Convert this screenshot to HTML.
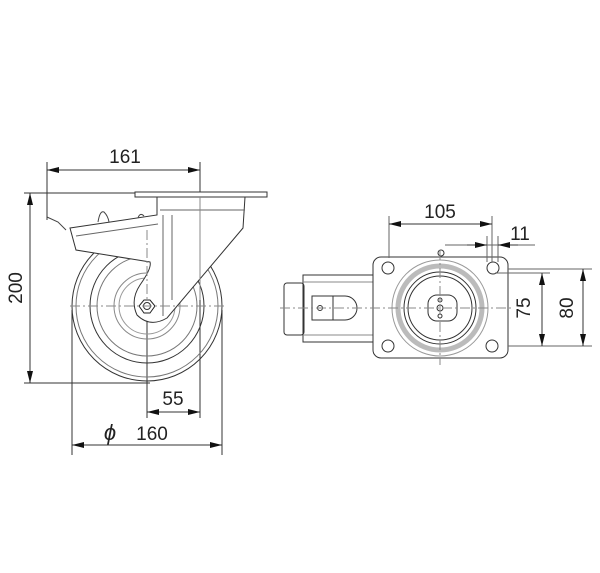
<!DOCTYPE html>
<html><head><meta charset="utf-8"><style>
html,body{margin:0;padding:0;background:#fff;}
svg{display:block;}
text{font-family:"Liberation Sans",sans-serif;fill:#222;}
</style></head><body>
<svg width="600" height="573" viewBox="0 0 600 573" xmlns="http://www.w3.org/2000/svg">
<defs>
<marker id="a" markerWidth="12" markerHeight="6" refX="12" refY="3" orient="auto-start-reverse" markerUnits="userSpaceOnUse">
<path d="M0,0 L12,3 L0,6 z" fill="#111"/></marker>
</defs>
<g fill="none" stroke="#333" stroke-width="1">
<!-- left view extension lines -->
<line x1="47" y1="162" x2="47" y2="220"/>
<line x1="200" y1="162" x2="200" y2="418"/>
<line x1="24" y1="193" x2="135" y2="193"/>
<line x1="24" y1="383" x2="150" y2="383"/>
<line x1="72" y1="310" x2="72" y2="455"/>
<line x1="222" y1="310" x2="222" y2="455"/>
<line x1="147" y1="300" x2="147" y2="418"/>
<!-- dims -->
<line x1="47" y1="170" x2="200" y2="170" marker-start="url(#a)" marker-end="url(#a)"/>
<line x1="30" y1="193" x2="30" y2="383" marker-start="url(#a)" marker-end="url(#a)"/>
<line x1="147" y1="412" x2="200" y2="412" marker-start="url(#a)" marker-end="url(#a)"/>
<line x1="72" y1="445" x2="222" y2="445" marker-start="url(#a)" marker-end="url(#a)"/>
<!-- wheel -->
<circle cx="147" cy="306" r="75"/>
<circle cx="147" cy="306" r="71" stroke="#777"/>
<circle cx="147" cy="306" r="57"/>
<circle cx="147" cy="306" r="50" stroke="#777"/>
<circle cx="147" cy="306" r="33" stroke="#888"/>
<circle cx="147" cy="306" r="28" stroke="#999"/>
<!-- fork (white fill covers wheel) -->
<path d="M70,228 L157,215 L157,197 L245,197 L243,228 L167,318 Q150,328 137,315 Q130,300 140,285 Q152,268 150,262 L76,250 Z" fill="#fff" stroke="#333"/>
<line x1="76" y1="236" x2="158" y2="224" stroke="#666"/>
<line x1="163" y1="215" x2="163" y2="316" stroke="#666"/>
<line x1="172" y1="215" x2="172" y2="300" stroke="#666"/>
<line x1="160" y1="210" x2="245" y2="210" stroke="#666"/>
<path d="M47,217 L58,222 L66,230" stroke="#444"/>
<path d="M98,222 Q100,210 104,212 Q108,216 109,222" stroke="#444"/>
<path d="M138,218 Q140,212 144,216" stroke="#444"/>
<rect x="135" y="192" width="132" height="5" fill="#fff"/>
<polygon points="150,313 155,306 150,300 144,300 139,306 144,313" stroke="#222" fill="#fff"/>
<circle cx="147" cy="306" r="3.5"/>
<!-- center lines -->
<line x1="70" y1="306" x2="225" y2="306" stroke="#888" stroke-dasharray="10,3,2,3"/>
<line x1="147" y1="230" x2="147" y2="300" stroke="#888" stroke-dasharray="10,3,2,3"/>
<line x1="200" y1="197" x2="200" y2="300" stroke="#888"/>

<!-- right view -->
<rect x="284" y="283" width="20" height="52" rx="3"/>
<rect x="303" y="275" width="70" height="67"/>
<line x1="303" y1="282" x2="373" y2="282" stroke="#888"/>
<line x1="303" y1="335" x2="373" y2="335" stroke="#888"/>
<rect x="312" y="296" width="21" height="24"/>
<path d="M333,296 L345,296 A12,12 0 0 1 345,320 L333,320" />
<circle cx="320" cy="308" r="2.5"/>
<rect x="373" y="257" width="135" height="101" rx="8"/>
<circle cx="388" cy="268" r="6"/><circle cx="493" cy="268" r="6"/>
<circle cx="388" cy="346" r="6"/><circle cx="492" cy="346" r="6"/>
<circle cx="440" cy="308" r="48" stroke="#999"/>
<circle cx="440" cy="308" r="42" stroke="#bbb" stroke-width="5"/>
<circle cx="440" cy="308" r="36"/>
<circle cx="440" cy="308" r="32"/>
<rect x="428" y="295" width="29" height="26" rx="9"/>
<circle cx="440" cy="300" r="2"/><circle cx="440" cy="308" r="3"/><circle cx="440" cy="316" r="2"/>
<circle cx="441" cy="253" r="3"/>
<line x1="280" y1="308" x2="512" y2="308" stroke="#888" stroke-dasharray="10,3,2,3"/>
<line x1="440" y1="250" x2="440" y2="365" stroke="#888" stroke-dasharray="10,3,2,3"/>
<!-- right dims -->
<line x1="389" y1="216" x2="389" y2="258" stroke="#666"/>
<line x1="492" y1="216" x2="492" y2="262" stroke="#666"/>
<line x1="487" y1="236" x2="487" y2="262" stroke="#666"/>
<line x1="498" y1="236" x2="498" y2="262" stroke="#666"/>
<line x1="389" y1="224" x2="492" y2="224" marker-start="url(#a)" marker-end="url(#a)"/>
<line x1="445" y1="245" x2="535" y2="245" stroke="#666"/>
<line x1="467" y1="245" x2="487" y2="245" marker-end="url(#a)"/>
<line x1="518" y1="245" x2="498" y2="245" marker-end="url(#a)"/>
<line x1="508" y1="269" x2="592" y2="269" stroke="#666"/>
<line x1="508" y1="346" x2="592" y2="346" stroke="#666"/>
<line x1="495" y1="273" x2="550" y2="273" stroke="#666"/>
<line x1="542" y1="273" x2="542" y2="346" marker-start="url(#a)" marker-end="url(#a)"/>
<line x1="583" y1="269" x2="583" y2="346" marker-start="url(#a)" marker-end="url(#a)"/>
</g>
<g font-size="19">
<text x="125" y="163" text-anchor="middle">161</text>
<text x="0" y="0" text-anchor="middle" transform="translate(22,288) rotate(-90)">200</text>
<text x="173" y="405" text-anchor="middle">55</text>
<text x="110" y="440" text-anchor="middle" font-style="italic" font-size="22">ϕ</text>
<text x="152" y="440" text-anchor="middle">160</text>
<text x="440" y="218" text-anchor="middle">105</text>
<text x="520" y="240" text-anchor="middle">11</text>
<text x="0" y="0" text-anchor="middle" transform="translate(530,308) rotate(-90)">75</text>
<text x="0" y="0" text-anchor="middle" transform="translate(573,308) rotate(-90)">80</text>
</g>
</svg>
</body></html>
